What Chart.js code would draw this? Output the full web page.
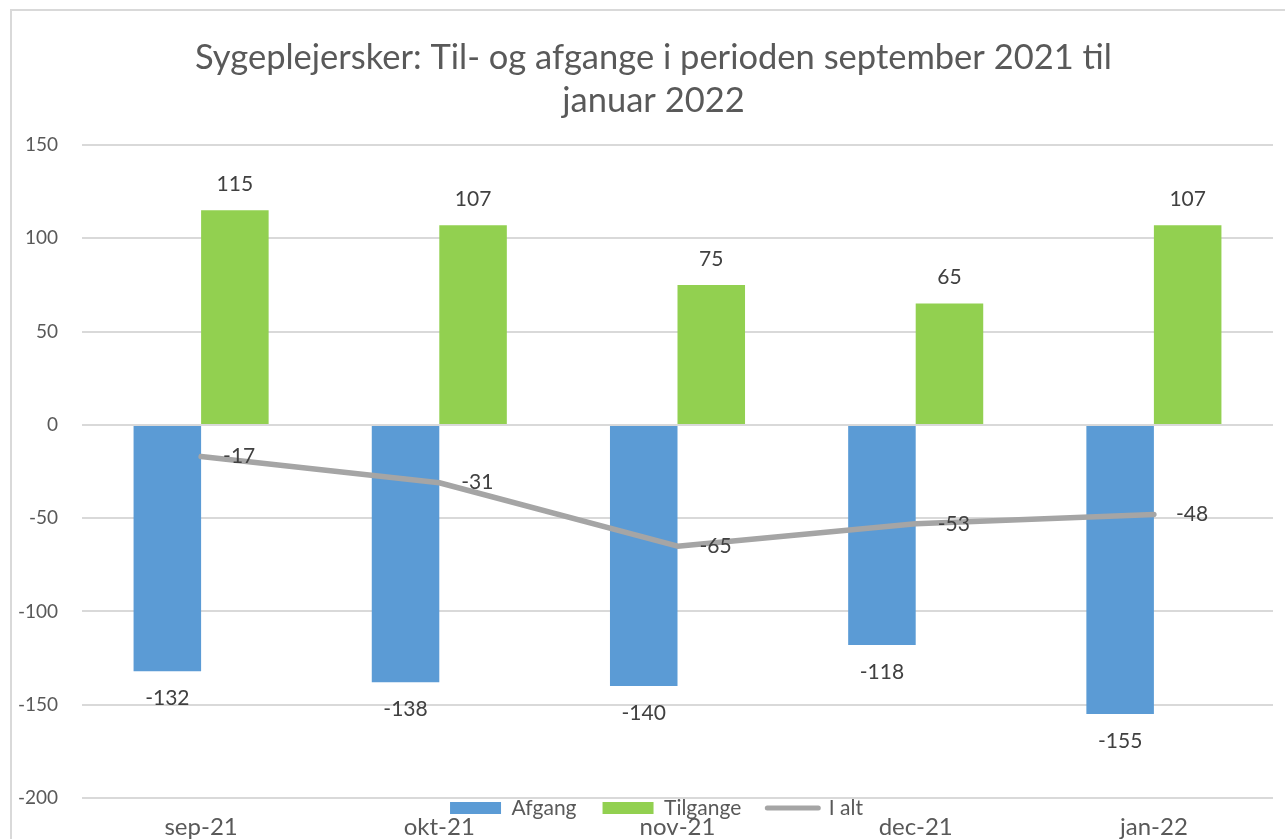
<!DOCTYPE html>
<html>
<head>
<meta charset="utf-8">
<script src="https://cdn.jsdelivr.net/npm/chart.js@4/dist/chart.umd.min.js"></script>
<style>
  html, body { margin: 0; padding: 0; background: #ffffff; overflow: hidden; width: 1285px; height: 839px; }
  #frame { position: absolute; left: 10px; top: 9px; width: 1400px; height: 1000px;
           border-left: 2px solid #d9d9d9; border-top: 2px solid #d9d9d9; }
  #c { position: absolute; left: 0; top: 0; }
</style>
</head>
<body>
<div id="frame"></div>
<canvas id="c" width="1285" height="857"></canvas>
<script>
const titleLines = ['Sygeplejersker: Til- og afgange i perioden september 2021 til', 'januar 2022'];
const categories = ['sep-21', 'okt-21', 'nov-21', 'dec-21', 'jan-22'];
const afgang = [-132, -138, -140, -118, -155];
const tilgange = [115, 107, 75, 65, 107];
const iAlt = [-17, -31, -65, -53, -48];
const seriesNames = ['Afgang', 'Tilgange', 'I alt'];
const yMin = -200, yMax = 150, yStep = 50;

const BLUE = '#5B9BD5', GREEN = '#92D050', GRAY = '#A5A5A5';
const TXT = '#595959', LBL = '#404040';
const FONT = 'Lato, "Open Sans", sans-serif';

const LEGEND_PAD = 26, LEGEND_FONT = 21;

const labelPlugin = {
  id: 'valueLabels',
  afterDatasetsDraw(chart) {
    const ctx = chart.ctx;
    ctx.save();
    ctx.font = '21px ' + FONT;
    ctx.fillStyle = LBL;
    ctx.textBaseline = 'middle';
    chart.data.datasets.forEach((ds, di) => {
      const meta = chart.getDatasetMeta(di);
      meta.data.forEach((el, i) => {
        const v = ds.data[i];
        if (ds.type === 'line') {
          ctx.textAlign = 'left';
          ctx.fillText(String(v), el.x + 22, el.y);
        } else {
          ctx.textAlign = 'center';
          const y = v >= 0 ? el.y - 26 : el.y + 27;
          ctx.fillText(String(v), el.x, y);
        }
      });
    });
    ctx.restore();
  }
};

const legendMovePlugin = {
  id: 'legendMove',
  afterLayout(chart) {
    const lg = chart.legend;
    if (lg) {
      const top = chart.chartArea.bottom + 10 - LEGEND_PAD - LEGEND_FONT / 2;
      lg.top = top; lg.bottom = top + 80; lg.height = 80;
      lg.left += 20; lg.right += 20;
    }
    const tt = chart.titleBlock;
    if (tt) { tt.left += 17; tt.right += 17; }
  }
};

new Chart(document.getElementById('c'), {
  data: {
    labels: categories,
    datasets: [
      { type: 'bar', label: seriesNames[0], data: afgang, backgroundColor: BLUE, borderWidth: 0,
        barPercentage: 1.0, categoryPercentage: 0.567, order: 1, pointStyle: 'rect' },
      { type: 'bar', label: seriesNames[1], data: tilgange, backgroundColor: GREEN, borderWidth: 0,
        barPercentage: 1.0, categoryPercentage: 0.567, order: 1, pointStyle: 'rect' },
      { type: 'line', label: seriesNames[2], data: iAlt, borderColor: GRAY, backgroundColor: GRAY,
        borderWidth: 5.5, borderCapStyle: 'round', borderJoinStyle: 'round', tension: 0,
        pointRadius: 0, pointHoverRadius: 0, pointStyle: 'line', order: 0, fill: false }
    ]
  },
  options: {
    responsive: false,
    animation: false,
    devicePixelRatio: 1,
    layout: { padding: { top: 0, left: 0, right: 12, bottom: 0 } },
    plugins: {
      title: {
        display: true,
        text: titleLines,
        color: TXT,
        font: { family: FONT, size: 34.5, weight: 'normal', lineHeight: 1.25 },
        padding: { top: 36.4, bottom: 22.4 }
      },
      legend: {
        display: true,
        position: 'bottom',
        maxHeight: 1,
        labels: {
          color: TXT,
          font: { family: FONT, size: LEGEND_FONT },
          usePointStyle: true,
          pointStyleWidth: 51,
          boxHeight: 12,
          padding: LEGEND_PAD,
          sort: (a, b) => a.datasetIndex - b.datasetIndex,
          generateLabels(chart) {
            const items = Chart.defaults.plugins.legend.labels.generateLabels(chart);
            items.forEach(it => {
              const ds = chart.data.datasets[it.datasetIndex];
              if (ds.type === 'line') {
                it.pointStyle = 'line'; it.strokeStyle = GRAY; it.lineWidth = 5; it.lineCap = 'round';
              } else {
                it.pointStyle = 'rect'; it.lineWidth = 0; it.fillStyle = ds.backgroundColor;
              }
            });
            return items;
          }
        }
      },
      tooltip: { enabled: false }
    },
    scales: {
      x: {
        grid: { display: false, drawTicks: false },
        border: { display: false },
        ticks: { color: TXT, font: { family: FONT, size: 24, lineHeight: 1.0 }, padding: 17, maxRotation: 0 }
      },
      y: {
        min: yMin, max: yMax,
        afterFit(scale) { scale.width = 82; },
        grid: { color: '#D9D9D9', lineWidth: 2, drawTicks: false },
        border: { display: false },
        ticks: { stepSize: yStep, color: TXT, font: { family: FONT, size: 19 }, padding: 24 }
      }
    }
  },
  plugins: [labelPlugin, legendMovePlugin]
});
</script>
</body>
</html>
